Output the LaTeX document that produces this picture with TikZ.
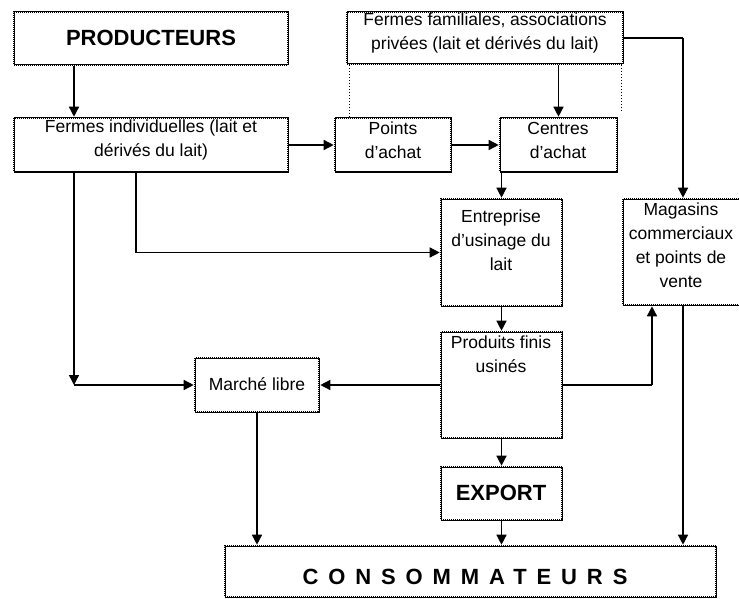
\documentclass[tikz,border=0pt]{standalone}
\usepackage{fontspec}
\setmainfont{Liberation Sans}
\newfontfamily\consfont[LetterSpace=45]{Liberation Sans}
\usetikzlibrary{arrows.meta,fit}
\begin{document}
\begin{tikzpicture}[x=1pt,y=-1pt,
  box/.style={draw=black, line width=2.6pt, dash pattern=on 1pt off 1pt,
    postaction={draw=black, solid, line width=1pt}, inner sep=0pt},
  txt/.style={font=\fontsize{17.5}{24}\selectfont, align=center, inner sep=0pt},
  big/.style={font=\fontsize{22}{26}\selectfont\bfseries, inner sep=0pt},
  arr/.style={draw=black, line width=1.4pt, -{Triangle[length=10pt,width=10pt]}},
  ln/.style={draw=black, line width=1.4pt},
  dots/.style={draw=black, line width=1pt, dotted}]
\useasboundingbox[fill=white] (0,0) rectangle (739,599);
% boxes
\node[box, fit={(14,12)(288,65)}] (prod) {};
\node[box, fit={(14,118)(288,172)}] (fi) {};
\node[box, fit={(347,12)(623,64)}] (ff) {};
\node[box, fit={(335,118)(451,172)}] (pa) {};
\node[box, fit={(500,118)(617,172)}] (ca) {};
\node[box, fit={(441,199)(562,306)}] (ent) {};
\node[box, fit={(623,199)(743,305)}] (mag) {};
\node[box, fit={(441,332)(562,438)}] (pf) {};
\node[box, fit={(195,358)(319,412)}] (ml) {};
\node[box, fit={(441,467)(562,520)}] (ex) {};
\node[box, fit={(225,546)(716,597)}] (cons) {};
% texts
\node[big] (tprod) at (151,38) {PRODUCTEURS};
\node[txt] (tfi) at (151,140) {Fermes individuelles (lait et\\dérivés du lait)};
\node[txt] (tff) at (485,33) {Fermes familiales, associations\\privées (lait et dérivés du lait)};
\node[txt] (tpa) at (393,140) {Points\\d'achat};
\node[txt] (tca) at (558,140) {Centres\\d'achat};
\node[txt] (tent) at (501,240) {Entreprise\\d'usinage du\\lait};
\node[txt] (tmag) at (681,245) {Magasins\\commerciaux\\et points de\\vente};
\node[txt] (tpf) at (501,354) {Produits finis\\usinés};
\node[txt] (tml) at (257,384) {Marché libre};
\node[big] (tex) at (501,493) {EXPORT};
\node[inner sep=0pt, font=\fontsize{22}{26}\selectfont\consfont\bfseries] (tcons) at (465,577) {CONSOMMATEURS};
% coordinates
\coordinate (c1) at (74,0 |- ml.west);
\coordinate (c2) at (136,0 |- ent.west);
\coordinate (c3) at (652,0 |- ml.east);
\coordinate (c4) at (683,0 |- ff.east);
\coordinate (d1) at (621,113);
% connectors
\draw[arr] (74,0 |- prod.south) -- (74,0 |- fi.north);
\draw[arr] (fi.east) -- (pa.west);
\draw[arr] (pa.east) -- (ca.west);
\draw[arr] (ff.south -| ca.north) -- (ca.north);
\draw[dots] (349,0 |- ff.south) -- (349,0 |- pa.north);
\draw[dots] (621,0 |- ff.south) -- (d1);
\draw[ln] (ff.east) -- (c4);
\draw[arr] (c4) -- (mag.north);
\draw[arr] (ent.north |- ca.south) -- (ent.north);
\draw[arr] (74,0 |- fi.south) -- (c1);
\draw[arr] (c1) -- (ml.west);
\draw[ln] (136,0 |- fi.south) -- (c2);
\draw[arr] (c2) -- (ent.west);
\draw[arr] (ent.south) -- (pf.north);
\draw[arr] (pf.west |- ml.east) -- (ml.east);
\draw[ln] (pf.east |- ml.east) -- (c3);
\draw[arr] (c3) -- (c3 |- mag.south);
\draw[arr] (pf.south) -- (ex.north);
\draw[arr] (ex.south) -- (ex.south |- cons.north);
\draw[arr] (ml.south) -- (ml.south |- cons.north);
\draw[arr] (mag.south) -- (mag.south |- cons.north);
\end{tikzpicture}
\end{document}
